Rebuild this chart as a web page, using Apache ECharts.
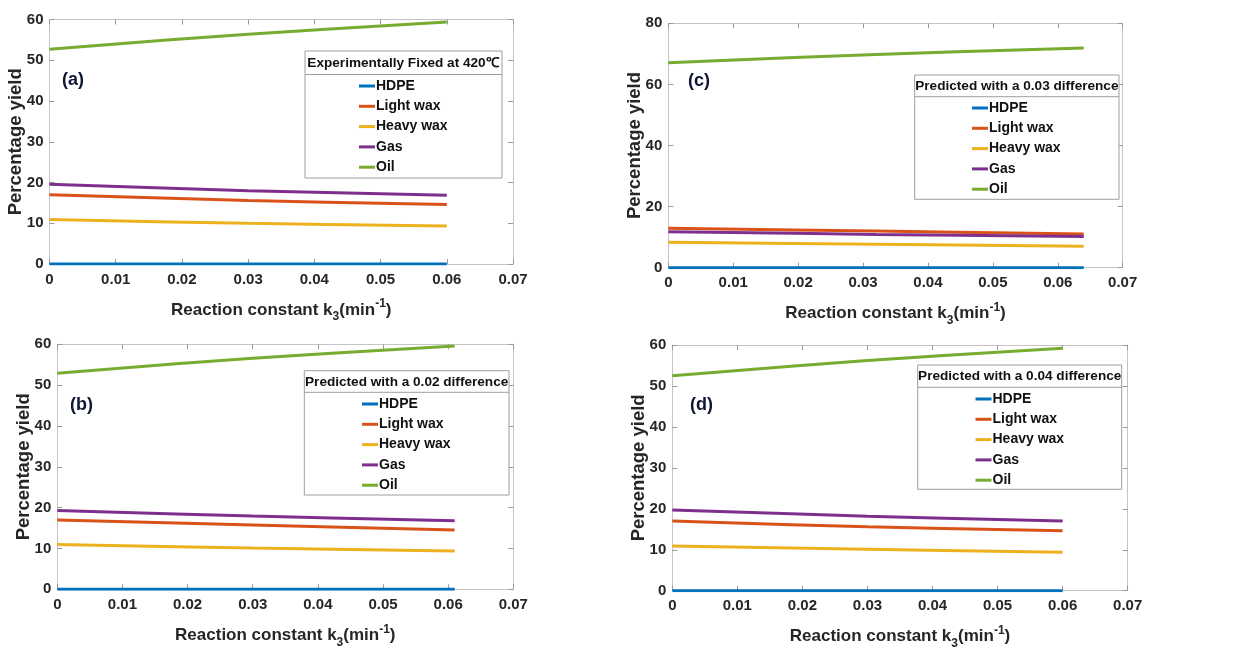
<!DOCTYPE html>
<html><head><meta charset="utf-8">
<script src="https://cdn.jsdelivr.net/npm/echarts@6/dist/echarts.min.js"></script>
<style>html,body{margin:0;padding:0;background:#fff}#c{width:1252px;height:651px}</style>
</head><body><div id="c"></div>
<script>
// ---------- data ----------
const seriesNames = ['HDPE', 'Light wax', 'Heavy wax', 'Gas', 'Oil'];
const xTicks = [0, 0.01, 0.02, 0.03, 0.04, 0.05, 0.06, 0.07];
// (a) Experimentally fixed at 420 C
const kA = [0, 0.03, 0.06];
const hdpeA = [0, 0, 0];
const lightA = [17.0, 15.6, 14.6];
const heavyA = [10.9, 10.0, 9.3];
const gasA = [19.6, 18.0, 16.9];
const oilA = [52.7, 56.4, 59.4];
// (b) Predicted with a 0.02 difference
const kB = [0, 0.03, 0.061];
const hdpeB = [0, 0, 0];
const lightB = [17.0, 15.75, 14.5];
const heavyB = [11.0, 10.1, 9.4];
const gasB = [19.3, 17.95, 16.8];
const oilB = [52.9, 56.6, 59.6];
// (c) Predicted with a 0.03 difference
const kC = [0, 0.032, 0.064];
const hdpeC = [0, 0, 0];
const lightC = [12.9, 12.0, 11.0];
const heavyC = [8.3, 7.7, 7.0];
const gasC = [11.8, 10.9, 10.2];
const oilC = [67.1, 69.8, 71.9];
// (d) Predicted with a 0.04 difference
const kD = [0, 0.03, 0.06];
const hdpeD = [0, 0, 0];
const lightD = [17.0, 15.6, 14.65];
const heavyD = [10.9, 10.1, 9.4];
const gasD = [19.7, 18.2, 17.0];
const oilD = [52.5, 56.2, 59.2];

// ---------- styles / layout ----------
const colors = ['#0072BD', '#D95319', '#EDB120', '#7E2F8E', '#77AC30'];
const FONT = '"Liberation Sans", Arial, sans-serif';
const TXT = '#262626';
const BOX = '#c4c4c4';

const panels = [
  { tag: '(a)', title: 'Experimentally Fixed at 420\u2103', k: kA, vals: [hdpeA, lightA, heavyA, gasA, oilA], yMax: 60, yInt: 10,
    grid: { left: 49.5, top: 19.5, width: 463.5, height: 244.5 },
    legBox: [305, 51, 197, 127, 23.5], legLeft: 359, legTop: 78, tagPos: [62, 71] },
  { tag: '(c)', title: 'Predicted with a 0.03 difference', k: kC, vals: [hdpeC, lightC, heavyC, gasC, oilC], yMax: 80, yInt: 20,
    grid: { left: 668.3, top: 23.3, width: 454.4, height: 244.4 },
    legBox: [914.7, 75, 204.3, 124.3, 21.7], legLeft: 972, legTop: 100, tagPos: [688, 72] },
  { tag: '(b)', title: 'Predicted with a 0.02 difference', k: kB, vals: [hdpeB, lightB, heavyB, gasB, oilB], yMax: 60, yInt: 10,
    grid: { left: 57.3, top: 344.3, width: 456, height: 245 },
    legBox: [304.3, 370.7, 204.7, 124.3, 21.6], legLeft: 362, legTop: 396, tagPos: [70, 396] },
  { tag: '(d)', title: 'Predicted with a 0.04 difference', k: kD, vals: [hdpeD, lightD, heavyD, gasD, oilD], yMax: 60, yInt: 10,
    grid: { left: 672.3, top: 345, width: 455.4, height: 245.7 },
    legBox: [917.7, 365, 204, 124.3, 22.3], legLeft: 975.5, legTop: 391, tagPos: [690, 396] }
];

const grids = [], xAxes = [], yAxes = [], series = [], legends = [], graphics = [];
const tickFmt = v => { const r = Math.round(v * 100) / 100; return r === 0 ? '0' : r.toFixed(2); };

panels.forEach((p, i) => {
  grids.push(p.grid);
  const baseX = {
    type: 'value', gridIndex: i, min: 0, max: 0.07, interval: 0.01,
    axisLine: { show: true, onZero: false, lineStyle: { color: BOX, width: 1 } },
    axisTick: { show: true, inside: true, length: 5, lineStyle: { color: '#9a9a9a' } },
    splitLine: { show: false }
  };
  xAxes.push(Object.assign({}, baseX, {
    position: 'bottom',
    axisLabel: { show: true, margin: 8, color: TXT, fontFamily: FONT, fontWeight: 'bold', fontSize: 15, formatter: tickFmt },
    name: 'Reaction constant k{sub|3}(min{sup|-1})',
    nameLocation: 'middle', nameGap: 33, nameMoveOverlap: false,
    nameTextStyle: {
      color: TXT, fontFamily: FONT, fontWeight: 'bold', fontSize: 17,
      rich: {
        sub: { fontFamily: FONT, fontWeight: 'bold', fontSize: 12, color: TXT, padding: [14, 0, 0, 0] },
        sup: { fontFamily: FONT, fontWeight: 'bold', fontSize: 12, color: TXT, padding: [0, 0, 12, 0] }
      }
    }
  }));
  xAxes.push(Object.assign({}, baseX, { position: 'top', axisLabel: { show: false } }));
  const baseY = {
    type: 'value', gridIndex: i, min: 0, max: p.yMax, interval: p.yInt,
    axisLine: { show: true, onZero: false, lineStyle: { color: BOX, width: 1 } },
    axisTick: { show: true, inside: true, length: 5, lineStyle: { color: '#9a9a9a' } },
    splitLine: { show: false }
  };
  yAxes.push(Object.assign({}, baseY, {
    position: 'left',
    axisLabel: { show: true, margin: 6, color: TXT, fontFamily: FONT, fontWeight: 'bold', fontSize: 15 },
    name: 'Percentage yield', nameLocation: 'middle', nameGap: 24, nameRotate: 90, nameMoveOverlap: false,
    nameTextStyle: { color: TXT, fontFamily: FONT, fontWeight: 'bold', fontSize: 18.5 }
  }));
  yAxes.push(Object.assign({}, baseY, { position: 'right', axisLabel: { show: false } }));

  seriesNames.forEach((nm, s) => {
    series.push({
      type: 'line', name: nm, xAxisIndex: 2 * i, yAxisIndex: 2 * i,
      data: p.k.map((kv, j) => [kv, p.vals[s][j]]),
      smooth: 0.35, showSymbol: false, symbol: 'none',
      lineStyle: { color: colors[s], width: 3 }, itemStyle: { color: colors[s] },
      z: 2 + (s === 0 ? 1 : 0)
    });
  });

  legends.push({
    orient: 'vertical', left: p.legLeft, top: p.legTop,
    data: seriesNames, icon: 'rect', itemWidth: 16, itemHeight: 3, itemGap: 4.3,
    selectedMode: false, padding: 0, z: 20,
    textStyle: { color: '#111', fontFamily: FONT, fontWeight: 'bold', fontSize: 14, lineHeight: 16, padding: [0, 0, 0, -4] }
  });

  const [bx, by, bw, bh, th] = p.legBox;
  graphics.push({ type: 'rect', shape: { x: bx, y: by, width: bw, height: bh }, style: { fill: '#fff', stroke: '#9e9e9e', lineWidth: 1 }, z: 10 });
  graphics.push({ type: 'line', shape: { x1: bx, y1: by + th, x2: bx + bw, y2: by + th }, style: { stroke: '#9e9e9e', lineWidth: 1 }, z: 11 });
  graphics.push({ type: 'text', x: bx + bw / 2, y: by + th / 2 + 0.5, style: { text: p.title, fill: '#111', font: 'bold 13.6px ' + FONT, textAlign: 'center', textVerticalAlign: 'middle' }, z: 11 });
  graphics.push({ type: 'text', x: p.tagPos[0], y: p.tagPos[1], style: { text: p.tag, fill: '#0d1633', font: 'bold 18px ' + FONT, textAlign: 'left', textVerticalAlign: 'top' }, z: 11 });
});

const chart = echarts.init(document.getElementById('c'), null, { renderer: 'canvas' });
chart.setOption({
  backgroundColor: '#fff',
  animation: false,
  grid: grids, xAxis: xAxes, yAxis: yAxes, series: series, legend: legends,
  graphic: { elements: graphics }
});
</script></body></html>
